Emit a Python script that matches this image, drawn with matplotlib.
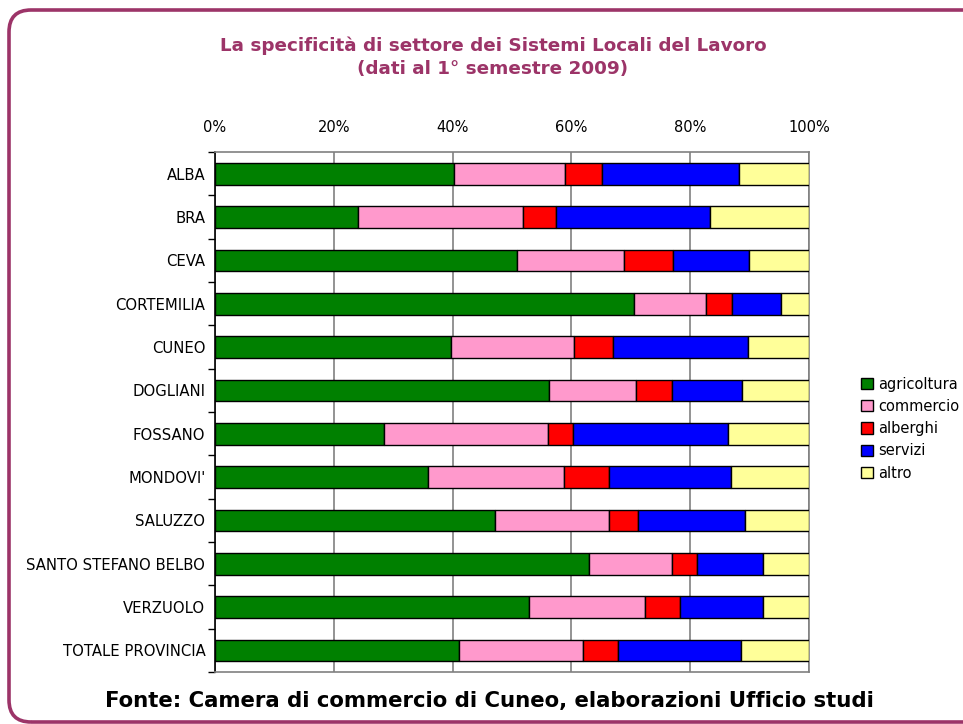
import matplotlib
matplotlib.use("Agg")
import matplotlib.pyplot as plt
import numpy as np
from matplotlib.patches import FancyBboxPatch, Patch
from matplotlib.transforms import IdentityTransform
from matplotlib.ticker import FixedLocator, PercentFormatter

categories = ["ALBA", "BRA", "CEVA", "CORTEMILIA", "CUNEO", "DOGLIANI", "FOSSANO",
              "MONDOVI'", "SALUZZO", "SANTO STEFANO BELBO", "VERZUOLO", "TOTALE PROVINCIA"]
agricoltura = [40.2, 24.1, 50.8, 70.6, 39.7, 56.3, 28.4, 35.9, 47.1, 63.0, 52.8, 41.1]
commercio   = [18.7, 27.7, 18.0, 12.1, 20.7, 14.6, 27.7, 22.9, 19.3, 13.9, 19.6, 20.8]
alberghi    = [6.3, 5.6, 8.3, 4.4, 6.6, 6.0, 4.2, 7.6, 4.8, 4.2, 5.8, 6.0]
servizi     = [23.0, 26.0, 12.8, 8.2, 22.7, 11.9, 26.1, 20.5, 18.1, 11.1, 14.0, 20.7]
altro       = [11.8, 16.6, 10.1, 4.7, 10.3, 11.2, 13.6, 13.1, 10.7, 7.8, 7.8, 11.4]
series_names = ["agricoltura", "commercio", "alberghi", "servizi", "altro"]
colors = ["#008000", "#FF99CC", "#FF0000", "#0000FF", "#FFFF99"]
xticks = [0, 20, 40, 60, 80, 100]

fig = plt.figure(figsize=(9.63, 7.24), dpi=100)
fig.patch.set_facecolor("white")

# rounded border
border = FancyBboxPatch((9, 2), 980, 712, boxstyle="round,pad=0,rounding_size=22",
                        transform=IdentityTransform(), fill=False,
                        edgecolor="#9C3468", linewidth=2.6)
fig.patches.append(border)

ax = fig.add_axes([0.2233, 0.0718, 0.6168, 0.7182])
data = [agricoltura, commercio, alberghi, servizi, altro]
y = np.arange(len(categories))
left = np.zeros(len(categories))
for vals, name, c in zip(data, series_names, colors):
    vals = np.array(vals)
    ax.barh(y, vals, left=left, height=0.5, color=c, edgecolor="black",
            linewidth=1.0, label=name, zorder=3)
    left += vals

ax.set_xlim(0, 100)
ax.set_ylim(len(categories) - 0.5, -0.5)
ax.set_yticks(y)
ax.set_yticklabels(categories, fontsize=10.7, family="DejaVu Sans")
ax.yaxis.set_minor_locator(FixedLocator(np.arange(-0.5, len(categories), 1)))
ax.tick_params(axis="y", which="major", length=0, pad=7)
ax.tick_params(axis="y", which="minor", length=5, width=1, color="black", direction="out")
ax.set_xticks(xticks)
ax.xaxis.set_major_formatter(PercentFormatter(decimals=0))
ax.xaxis.tick_top()
ax.tick_params(axis="x", length=0, pad=12, labelsize=10.5)
ax.grid(axis="x", color="#808080", linewidth=1.2, zorder=0)
for s in ["top", "right", "bottom"]:
    ax.spines[s].set_color("#808080")
    ax.spines[s].set_linewidth(1.2)
ax.spines["left"].set_color("black")
ax.spines["left"].set_linewidth(1.2)

handles = [Patch(facecolor=c, edgecolor="black", linewidth=1.0) for c in colors]
fig.legend(handles, series_names, loc="upper left", bbox_to_anchor=(0.888, 0.488),
           frameon=False, fontsize=10.5, handlelength=0.8, handleheight=0.8,
           handletextpad=0.4, labelspacing=0.5, borderaxespad=0)

fig.text(0.512, 0.921, "La specificità di settore dei Sistemi Locali del Lavoro\n(dati al 1° semestre 2009)",
         ha="center", va="center", fontsize=13.2, fontweight="bold", color="#9C3468",
         linespacing=1.35)
fig.text(0.508, 0.032, "Fonte: Camera di commercio di Cuneo, elaborazioni Ufficio studi",
         ha="center", va="center", fontsize=15.3, fontweight="bold", color="black")

fig.savefig("out.png", dpi=100)
